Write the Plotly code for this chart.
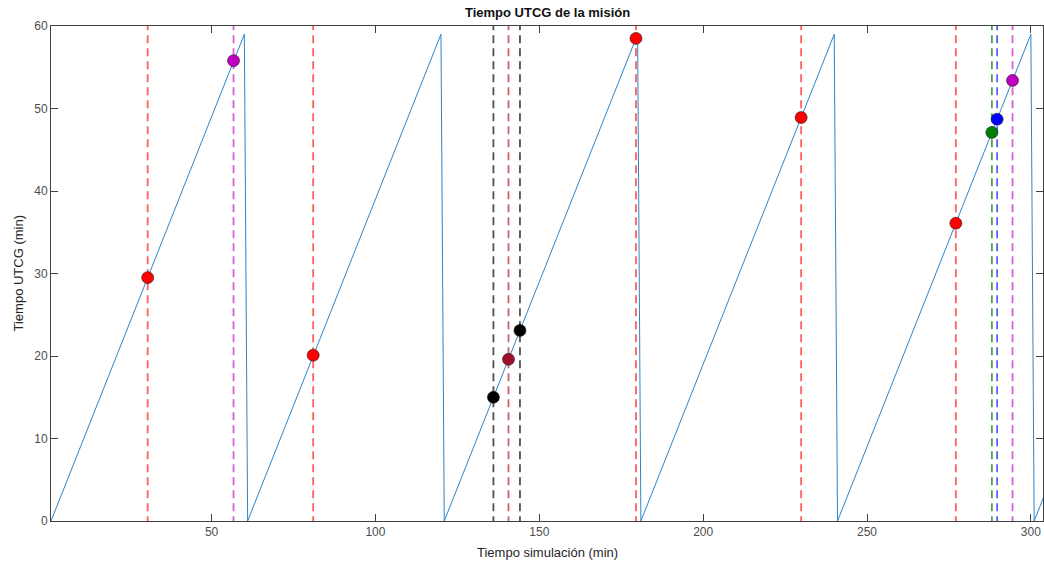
import plotly.graph_objects as go

# Sawtooth vertices (simulation time, UTCG minute)
saw_t = [1, 60, 61, 120, 121, 180, 181, 240, 241, 300, 301, 304]
saw_y = [0, 59, 0, 59, 0, 59, 0, 59, 0, 59, 0, 3]

# Events: x (min), y (UTCG min), marker colour, dashed-line colour
ev_x = [30.5, 56.7, 81.0, 136.0, 140.6, 144.1, 179.5, 229.9, 277.1, 288.1, 289.7, 294.4]
ev_y = [29.5, 55.8, 20.1, 15.0, 19.6, 23.1, 58.5, 48.9, 36.1, 47.1, 48.7, 53.4]
ev_marker = ["#ff0000", "#c000c0", "#ff0000", "#000000", "#a0102a", "#000000",
             "#ff0000", "#ff0000", "#ff0000", "#008000", "#0000ff", "#c000c0"]
ev_line = ["#ff6060", "#d860d8", "#ff6060", "#505050", "#d06070", "#505050",
           "#ff6060", "#ff6060", "#ff6060", "#50a050", "#6060ff", "#d860d8"]

x_ticks = [50, 100, 150, 200, 250, 300]
y_ticks = [0, 10, 20, 30, 40, 50, 60]

fig = go.Figure()

for x, c in zip(ev_x, ev_line):
    fig.add_trace(go.Scatter(x=[x, x], y=[-0.4, 60.3], mode="lines",
                             line=dict(color=c, width=1.8, dash="8px,5px"),
                             hoverinfo="skip", showlegend=False, cliponaxis=False))

fig.add_trace(go.Scatter(x=saw_t, y=saw_y, mode="lines",
                         line=dict(color="#2b86cc", width=1), showlegend=False))

fig.add_trace(go.Scatter(x=ev_x, y=ev_y, mode="markers",
                         marker=dict(size=12, color=ev_marker,
                                     line=dict(color="#202020", width=0.6)),
                         showlegend=False, cliponaxis=False))

axis_common = dict(showline=True, linecolor="#404040", linewidth=1, mirror="ticks",
                   ticks="inside", ticklen=7, tickcolor="#404040", showgrid=False,
                   zeroline=False, automargin=False,
                   tickfont=dict(family="Liberation Sans", size=12, color="#4d4d4d"))

fig.update_layout(
    width=1044, height=567,
    margin=dict(l=51, r=1, t=26, b=46),
    paper_bgcolor="white", plot_bgcolor="white",
    xaxis=dict(range=[1, 303.7], tickvals=x_ticks, **axis_common),
    yaxis=dict(range=[0, 60], tickvals=y_ticks, **axis_common),
    font=dict(family="Liberation Sans", color="#262626"),
    annotations=[
        dict(text="<b>Tiempo UTCG de la misión</b>", x=0.5, y=(521 - 12) / 495, xref="paper", yref="paper",
             showarrow=False, font=dict(size=13, color="#111111"), yanchor="middle"),
        dict(text="Tiempo simulación (min)", x=0.5, y=(521 - 552) / 495, xref="paper", yref="paper",
             showarrow=False, font=dict(size=13, color="#262626"), yanchor="middle"),
        dict(text="Tiempo UTCG (min)", x=(18 - 51) / 992, y=0.5, xref="paper", yref="paper",
             showarrow=False, textangle=-90, font=dict(size=13, color="#262626"), xanchor="center"),
    ],
)

fig.write_html("out.html", config={"displayModeBar": False},
               post_script="document.body.style.margin='0';")
